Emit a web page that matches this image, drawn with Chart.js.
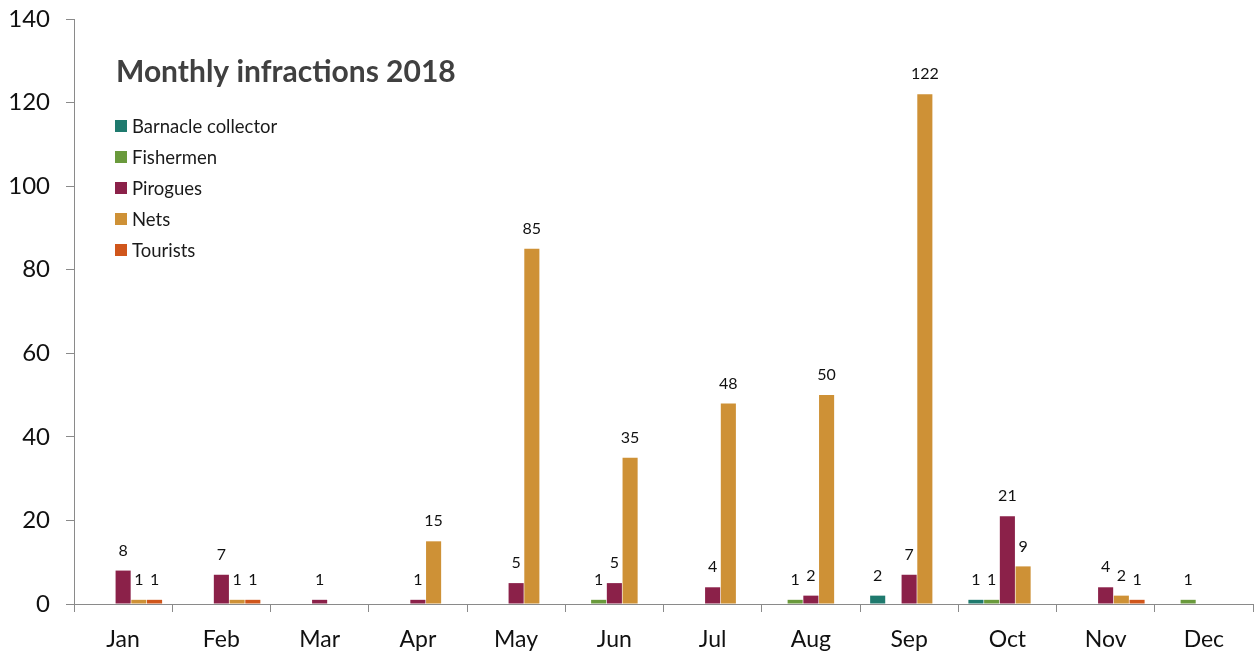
<!DOCTYPE html>
<html lang="en">
<head>
    <meta charset="UTF-8">
    <title>Monthly infractions 2018</title>
    <script src="https://cdn.jsdelivr.net/npm/chart.js"></script>
    <style>
        body {
            margin: 0;
            background: #ffffff;
        }
        .wrap {
            width: 1259px;
            height: 652px;
            position: relative;
        }
    </style>
</head>
<body>
    <div class="wrap">
        <canvas id="infractionsChart" width="1259" height="652"></canvas>
    </div>

    <script>
        // months on the x axis
        const months = ['Jan', 'Feb', 'Mar', 'Apr', 'May', 'Jun', 'Jul', 'Aug', 'Sep', 'Oct', 'Nov', 'Dec'];

        // infractions per month for each group
        const barnacleCollector = [0, 0, 0, 0, 0, 0, 0, 0, 2, 1, 0, 0];
        const fishermen         = [0, 0, 0, 0, 0, 1, 0, 1, 0, 1, 0, 1];
        const pirogues          = [8, 7, 1, 1, 5, 5, 4, 2, 7, 21, 4, 0];
        const nets              = [1, 1, 0, 15, 85, 35, 48, 50, 122, 9, 2, 0];
        const tourists          = [1, 1, 0, 0, 0, 0, 0, 0, 0, 0, 1, 0];

        const yTicks = [0, 20, 40, 60, 80, 100, 120, 140];

        const chartTitle = 'Monthly infractions 2018';
        const fontFamily = 'Lato, "Open Sans", sans-serif';

        // writes the number above every non-zero bar
        const valueLabels = {
            id: 'valueLabels',
            afterDatasetsDraw(chart) {
                const ctx = chart.ctx;
                ctx.save();
                ctx.font = '16px ' + fontFamily;
                ctx.fillStyle = '#111';
                ctx.textAlign = 'center';
                ctx.textBaseline = 'bottom';
                chart.data.datasets.forEach((ds, i) => {
                    const meta = chart.getDatasetMeta(i);
                    meta.data.forEach((bar, j) => {
                        const v = ds.data[j];
                        if (!v) return;
                        ctx.fillText(String(v), bar.x, bar.y - 12);
                    });
                });
                ctx.restore();
            }
        };

        // title and legend sit inside the plot, top left
        const innerLegend = {
            id: 'innerLegend',
            afterDraw(chart) {
                const ctx = chart.ctx;
                ctx.save();
                ctx.font = 'bold 30px ' + fontFamily;
                ctx.fillStyle = '#404040';
                ctx.textAlign = 'left';
                ctx.textBaseline = 'middle';
                ctx.fillText(chartTitle, 116, 72);

                ctx.font = '18.5px ' + fontFamily;
                chart.data.datasets.forEach((ds, i) => {
                    const y = 126 + i * 31;
                    ctx.fillStyle = ds.backgroundColor;
                    ctx.fillRect(115, y - 6, 12, 12);
                    ctx.fillStyle = '#1a1a1a';
                    ctx.fillText(ds.label, 132, y + 1);
                });
                ctx.restore();
            }
        };

        const ctx = document.getElementById('infractionsChart').getContext('2d');
        const infractionsChart = new Chart(ctx, {
            type: 'bar',
            data: {
                labels: months,
                datasets: [
                    { label: 'Barnacle collector', data: barnacleCollector, backgroundColor: '#1F7A6E' },
                    { label: 'Fishermen', data: fishermen, backgroundColor: '#6A9A3C' },
                    { label: 'Pirogues', data: pirogues, backgroundColor: '#8B2149' },
                    { label: 'Nets', data: nets, backgroundColor: '#CE9136' },
                    { label: 'Tourists', data: tourists, backgroundColor: '#D0561B' }
                ]
            },
            options: {
                responsive: false,
                animation: false,
                categoryPercentage: 0.8,
                barPercentage: 0.96,
                layout: {
                    padding: { top: 19, right: 6, left: 0, bottom: 0 }
                },
                plugins: {
                    legend: { display: false },
                    title: { display: false },
                    tooltip: { enabled: false }
                },
                scales: {
                    x: {
                        grid: {
                            offset: true,
                            drawOnChartArea: false,
                            drawTicks: true,
                            tickLength: 8,
                            color: '#8a8a8a'
                        },
                        border: { color: '#8a8a8a', width: 1 },
                        ticks: {
                            color: '#111',
                            font: { family: fontFamily, size: 23 },
                            padding: 14,
                            maxRotation: 0
                        },
                        afterFit(scale) {
                            scale.height = 48;
                            scale.paddingLeft = 0;
                            scale.paddingRight = 0;
                        }
                    },
                    y: {
                        min: 0,
                        max: 140,
                        afterBuildTicks(scale) {
                            scale.ticks = yTicks.map(v => ({ value: v }));
                        },
                        grid: {
                            drawOnChartArea: false,
                            drawTicks: true,
                            tickLength: 8,
                            color: '#8a8a8a'
                        },
                        border: { color: '#8a8a8a', width: 1 },
                        ticks: {
                            color: '#111',
                            font: { family: fontFamily, size: 24 },
                            padding: 16
                        },
                        afterFit(scale) {
                            scale.width = 74;
                            scale.paddingTop = 0;
                            scale.paddingBottom = 0;
                        }
                    }
                }
            },
            plugins: [valueLabels, innerLegend]
        });
    </script>
</body>
</html>
